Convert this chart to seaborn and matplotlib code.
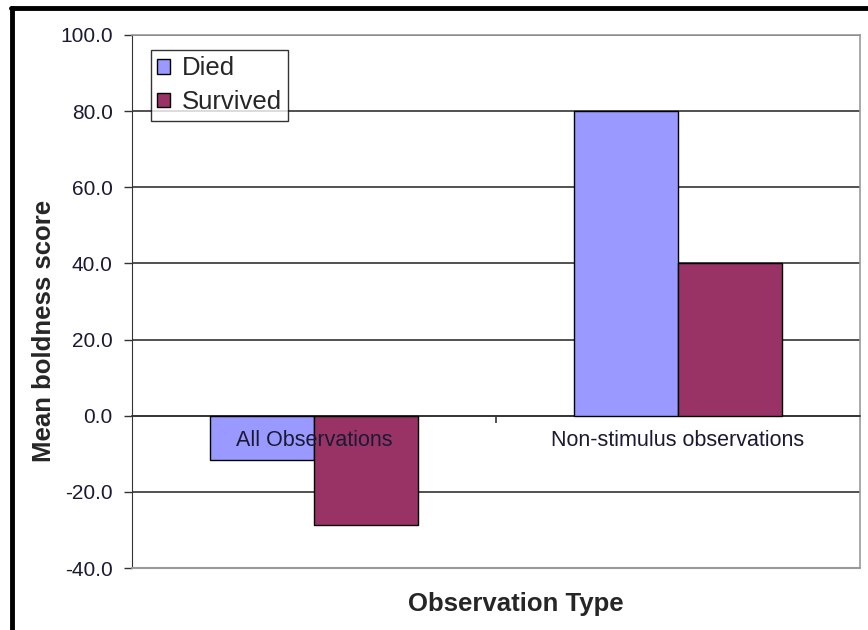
import pandas as pd
import matplotlib
matplotlib.use("Agg")
import matplotlib.pyplot as plt
from matplotlib.lines import Line2D
import seaborn as sns

categories = ["All Observations", "Non-stimulus observations"]
died = [-11.7, 80.0]
survived = [-28.6, 40.0]
series = ["Died", "Survived"]
colors = ["#9999FF", "#993366"]

df = pd.DataFrame({
    "Observation Type": categories * 2,
    "score": died + survived,
    "group": [series[0]] * 2 + [series[1]] * 2,
})

sns.set_style("white")
plt.rcParams['font.family'] = ['Liberation Sans', 'DejaVu Sans']

fig = plt.figure(figsize=(8.68, 6.3), dpi=100)
ax = fig.add_axes([132 / 868, 62 / 630, 728 / 868, 533 / 630])

sns.barplot(data=df, x="Observation Type", y="score", hue="group",
            palette=colors, width=0.572, edgecolor="black", linewidth=1,
            saturation=1, ax=ax, zorder=3)

ax.set_ylim(-40, 100)
ax.set_xlim(-0.5, 1.5)
ax.set_yticks(range(-40, 101, 20))
ax.set_yticklabels([f"{v:.1f}" for v in range(-40, 101, 20)], fontsize=15, color="#1a1a33")
ax.yaxis.grid(True, color="#333333", linewidth=1.2, zorder=0)
ax.set_axisbelow(True)
ax.tick_params(axis="y", direction="out", length=6, width=1, color="#333333", pad=8, left=True)

# category axis sits at zero
ax.spines["bottom"].set_position(("data", 0))
ax.spines["bottom"].set_color("#333333")
ax.spines["bottom"].set_linewidth(1.2)
ax.spines["left"].set_color("#333333")
for s in ["top", "right"]:
    ax.spines[s].set_color("#999999")
    ax.spines[s].set_linewidth(1.2)
ax.axhline(-40, color="#999999", linewidth=1.5, zorder=4, clip_on=False)

ax.set_xticks([0, 1])
ax.set_xticklabels(categories, fontsize=15.5, color="#1a1a33")
ax.set_xticks([0.5], minor=True)
ax.tick_params(axis="x", which="major", length=0, pad=10.5)
ax.tick_params(axis="x", which="minor", direction="out", length=5, width=1.2, color="#333333", bottom=True)
ax.xaxis.set_zorder(5)

ax.set_ylabel("Mean boldness score", fontsize=18.5, fontweight="bold")
ax.yaxis.set_label_coords(-0.105, 0.445)
ax.set_xlabel("")
fig.text(516 / 868, 1 - 604 / 630, "Observation Type", fontsize=18.5, fontweight="bold",
         ha="center", va="center")

leg = ax.legend(loc="upper left", bbox_to_anchor=(0.026, 0.972), fontsize=18.5,
                frameon=True, fancybox=False, edgecolor="black", handlelength=0.5,
                handleheight=0.5, handletextpad=0.45, borderpad=0.25, labelspacing=0.38,
                borderaxespad=0)
leg.get_frame().set_linewidth(1)
leg.set_title(None)
leg.set_zorder(6)

# outer black frame (top and left)
fig.add_artist(Line2D([11 / 868, 1], [1 - 8 / 630, 1 - 8 / 630], color="black", linewidth=3.5))
fig.add_artist(Line2D([11.5 / 868, 11.5 / 868], [0, 1 - 8 / 630], color="black", linewidth=3.5))

fig.savefig("out.png", dpi=100, facecolor="white")
